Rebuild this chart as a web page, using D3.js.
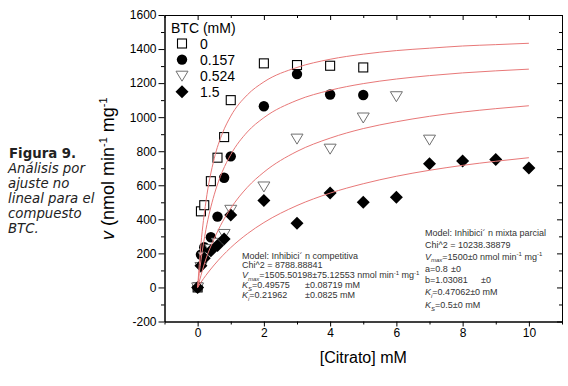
<!DOCTYPE html>
<html>
<script src="https://d3js.org/d3.v7.min.js"></script>

<head>
    <style>
        body {
            margin: 0;
            background-color: white;
        }

        svg {
            display: block;
        }
    </style>
</head>

<body>
    <svg width="568" height="386"></svg>
</body>
<script>
    const width = 568,
        height = 386;
    const svg = d3.select("svg");

    // measured points, [Citrato mM, v]
    const BTC_0 = [[0, 0], [0.1, 447], [0.2, 483], [0.4, 624], [0.6, 762], [0.8, 883], [1, 1100],
        [2, 1316], [3, 1306], [4, 1302], [5, 1292]];
    const BTC_0157 = [[0, 0], [0.1, 193], [0.2, 236], [0.4, 295], [0.6, 416], [0.8, 644], [1, 770],
        [2, 1064], [3, 1253], [4, 1133], [5, 1130]];
    const BTC_0524 = [[0, 0], [0.1, 120], [0.2, 180], [0.4, 225], [0.6, 262], [0.8, 314], [1, 456],
        [2, 593], [3, 874], [4, 815], [5, 998], [6, 1123], [7, 868]];
    const BTC_15 = [[0, 0], [0.1, 128], [0.2, 172], [0.4, 215], [0.6, 246], [0.8, 285], [1, 426],
        [2, 511], [3, 377], [4, 554], [5, 501], [6, 530], [7, 727], [8, 742], [9, 752], [10, 701]];

    // fitted curves
    const FIT_0 = [[0, 0], [0.1, 253], [0.25, 503], [0.5, 756], [0.75, 906], [1, 1006], [1.5, 1131],
        [2, 1207], [3, 1292], [4, 1340], [5, 1370], [6, 1391], [7, 1405], [8, 1418], [9, 1426], [10, 1434]];
    const FIT_0157 = [[0, 0], [0.1, 159], [0.25, 339], [0.5, 544], [0.75, 682], [1, 780], [1.5, 913],
        [2, 997], [3, 1099], [4, 1158], [5, 1197], [6, 1224], [7, 1244], [8, 1260], [9, 1272], [10, 1282]];
    const FIT_0524 = [[0, 0], [0.1, 70], [0.25, 167], [0.5, 286], [0.75, 385], [1, 465], [1.5, 588],
        [2, 677], [3, 799], [4, 877], [5, 933], [6, 973], [7, 1005], [8, 1030], [9, 1050], [10, 1067]];
    const FIT_15 = [[0, 0], [0.1, 30], [0.25, 71], [0.5, 132], [0.75, 186], [1, 234], [1.5, 315],
        [2, 381], [3, 481], [4, 554], [5, 609], [6, 653], [7, 688], [8, 717], [9, 741], [10, 762]];

    const LEGEND = ["0", "0.157", "0.524", "1.5"];
    const X_TICKS = [0, 2, 4, 6, 8, 10];
    const X_MINOR = [-1, 1, 3, 5, 7, 9, 11];
    const Y_TICKS = [-200, 0, 200, 400, 600, 800, 1000, 1200, 1400, 1600];
    const Y_MINOR = [-100, 100, 300, 500, 700, 900, 1100, 1300, 1500];

    const FONT = "'Liberation Sans', Arial, sans-serif";

    function marker(g, type, cx, cy) {
        if (type == "square") {
            g.append("rect")
                .attr("x", cx - 4.5).attr("y", cy - 4.5)
                .attr("width", 9).attr("height", 9)
                .attr("fill", "white").attr("stroke", "black").attr("stroke-width", 1.1);
        } else if (type == "circle") {
            g.append("circle")
                .attr("cx", cx).attr("cy", cy).attr("r", 5.2)
                .attr("fill", "black");
        } else if (type == "triangle") {
            g.append("path")
                .attr("d", `M${cx - 6},${cy - 4.5}L${cx + 6},${cy - 4.5}L${cx},${cy + 5.5}Z`)
                .attr("fill", "white").attr("stroke", "#707070").attr("stroke-width", 1);
        } else {
            g.append("path")
                .attr("d", `M${cx},${cy - 6.5}L${cx + 6.5},${cy}L${cx},${cy + 6.5}L${cx - 6.5},${cy}Z`)
                .attr("fill", "black");
        }
    }

    // text with sub / superscript pieces: [text, style]
    function richText(x, y, parts) {
        const t = svg.append("text")
            .attr("x", x).attr("y", y)
            .attr("font-family", FONT)
            .attr("font-size", "9px")
            .attr("fill", "#333");
        parts.forEach(p => {
            const [s, st] = Array.isArray(p) ? p : [p, ""];
            const ts = t.append("tspan").text(s);
            if (st == "i") ts.attr("font-style", "italic");
            if (st == "subi") ts.attr("font-size", "6px").attr("dy", 2.5).attr("font-style", "italic");
            if (st == "sup") ts.attr("font-size", "6px").attr("dy", -3.5);
            if (st == "back") ts.attr("dy", -2.5);
            if (st == "down") ts.attr("dy", 3.5);
        });
        return t;
    }

    function draw() {
        const x = d3.scaleLinear().domain([-1, 11]).range([164.5, 562]);
        const y = d3.scaleLinear().domain([-200, 1600]).range([321.5, 15]);

        // axes
        const axes = [
            { ax: d3.axisLeft(y).tickValues(Y_TICKS).tickSize(6).tickFormat(d => String(d)), tr: `translate(${x(-1)},0)` },
            { ax: d3.axisLeft(y).tickValues(Y_MINOR).tickSize(3.5).tickFormat(""), tr: `translate(${x(-1)},0)` },
            { ax: d3.axisBottom(x).tickValues(X_TICKS).tickSize(5).tickFormat(d => String(d)), tr: `translate(0,${y(-200)})` },
            { ax: d3.axisBottom(x).tickValues(X_MINOR).tickSize(3).tickFormat(""), tr: `translate(0,${y(-200)})` },
            { ax: d3.axisTop(x).tickValues(X_TICKS).tickSize(-5).tickFormat(""), tr: `translate(0,${y(1600)})` },
            { ax: d3.axisTop(x).tickValues(X_MINOR).tickSize(-3).tickFormat(""), tr: `translate(0,${y(1600)})` },
            { ax: d3.axisRight(y).tickValues(Y_TICKS).tickSize(-5).tickFormat(""), tr: `translate(${x(11)},0)` },
            { ax: d3.axisRight(y).tickValues(Y_MINOR).tickSize(-3).tickFormat(""), tr: `translate(${x(11)},0)` },
        ];
        axes.forEach(a => {
            const g = svg.append("g")
                .attr("transform", a.tr)
                .call(a.ax.tickSizeOuter(0).tickPadding(2));
            g.selectAll("path, line").attr("stroke", "black").attr("stroke-width", 1);
            g.selectAll("text")
                .attr("font-family", FONT)
                .attr("font-size", "12px")
                .attr("fill", "black");
        });

        // data markers
        const series = [
            { data: BTC_0, type: "square" },
            { data: BTC_0157, type: "circle" },
            { data: BTC_0524, type: "triangle" },
            { data: BTC_15, type: "diamond" },
        ];
        const mg = svg.append("g");
        series.forEach(s => {
            s.data.forEach(d => marker(mg, s.type, x(d[0]), y(d[1])));
        });

        // fitted curves
        const line = d3.line().x(d => x(d[0])).y(d => y(d[1])).curve(d3.curveMonotoneX);
        [FIT_0, FIT_0157, FIT_0524, FIT_15].forEach(f => {
            svg.append("path")
                .attr("d", line(f))
                .attr("fill", "none")
                .attr("stroke", "#e87878")
                .attr("stroke-width", 1);
        });

        // legend
        svg.append("text")
            .attr("x", 171).attr("y", 33)
            .attr("font-family", FONT).attr("font-size", "14px")
            .text("BTC (mM)");
        series.forEach((s, i) => {
            const cy = 43.5 + i * 16.1;
            marker(svg, s.type, 182, cy);
            svg.append("text")
                .attr("x", 200).attr("y", cy + 5)
                .attr("font-family", FONT).attr("font-size", "14px")
                .text(LEGEND[i]);
        });

        // axis titles
        svg.append("text")
            .attr("x", x(5)).attr("y", 363)
            .attr("text-anchor", "middle")
            .attr("font-family", FONT).attr("font-size", "16px")
            .text("[Citrato] mM");
        const yt = svg.append("text")
            .attr("transform", "translate(114,240) rotate(-90)")
            .attr("font-family", FONT).attr("font-size", "18px");
        yt.append("tspan").attr("font-style", "italic").text("v");
        yt.append("tspan").text(" (nmol min");
        yt.append("tspan").attr("font-size", "11px").attr("dy", -7).text("-1");
        yt.append("tspan").attr("dy", 7).text(" mg");
        yt.append("tspan").attr("font-size", "11px").attr("dy", -7).text("-1");

        // model boxes
        richText(242, 258.5, ["Model: Inhibici\u00b4 n competitiva"]);
        richText(242, 268, ["Chi^2 = 8788.88841"]);
        richText(242, 278, [["V", "i"], ["max", "subi"], ["=1505.50198\u00b175.12553 nmol min", "back"],
            ["-1", "sup"], [" mg", "down"], ["-1", "sup"]]);
        richText(242, 288, [["K", "i"], ["S", "subi"], ["=0.49575", "back"]]);
        richText(305, 288, ["\u00b10.08719 mM"]);
        richText(242, 298, [["K", "i"], ["i", "subi"], ["=0.21962", "back"]]);
        richText(305, 298, ["\u00b10.0825 mM"]);

        richText(425, 236, ["Model: Inhibici\u00b4 n mixta parcial"]);
        richText(425, 247.5, ["Chi^2 = 10238.38879"]);
        richText(425, 259.5, [["V", "i"], ["max", "subi"], ["=1500\u00b10 nmol min", "back"],
            ["-1", "sup"], [" mg", "down"], ["-1", "sup"]]);
        richText(425, 272, ["a=0.8"]);
        richText(451, 272, ["\u00b10"]);
        richText(425, 283, ["b=1.03081"]);
        richText(481, 283, ["\u00b10"]);
        richText(425, 295, [["K", "i"], ["i", "subi"], ["=0.47062\u00b10 mM", "back"]]);
        richText(425, 308, [["K", "i"], ["S", "subi"], ["=0.5\u00b10 mM", "back"]]);

        // figure caption
        const cap = ["An\u00e1lisis por", "ajuste no", "lineal para el", "compuesto", "BTC."];
        svg.append("text")
            .attr("x", 9).attr("y", 157.5)
            .attr("font-family", "'DejaVu Sans', Verdana, sans-serif")
            .attr("font-size", "13.3px").attr("font-weight", "bold")
            .attr("fill", "#222")
            .text("Figura 9.");
        cap.forEach((c, i) => {
            svg.append("text")
                .attr("x", 8).attr("y", 172.8 + i * 15.1)
                .attr("font-family", "'DejaVu Sans', Verdana, sans-serif")
                .attr("font-size", "13.3px").attr("font-style", "italic")
                .attr("fill", "#222")
                .text(c);
        });
    }

    draw();
</script>

</html>
